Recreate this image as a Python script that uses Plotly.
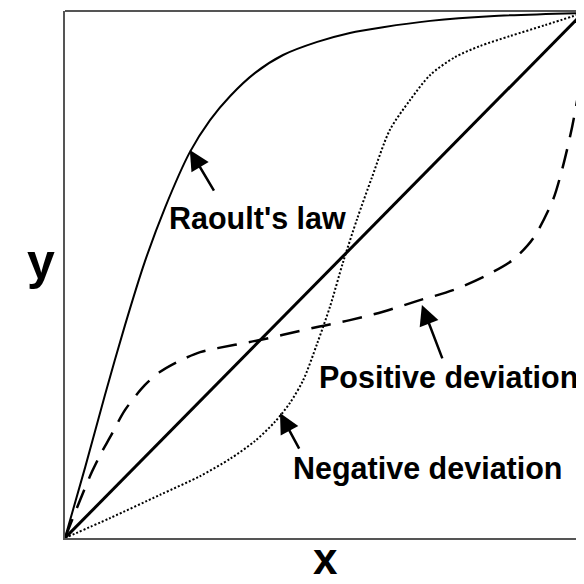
import plotly.graph_objects as go

# Diagonal (ideal line)
diag_x = [0.0, 1.0]
diag_y = [0.0, 1.0]

# Upper concave solid curve
curve_a_x = [0.0, 0.039, 0.077, 0.116, 0.154, 0.193, 0.241, 0.280, 0.319, 0.367, 0.421, 0.487, 0.550, 0.614, 0.705, 0.821, 1.0]
curve_a_y = [0.0, 0.135, 0.272, 0.406, 0.526, 0.629, 0.735, 0.796, 0.842, 0.886, 0.920, 0.945, 0.962, 0.973, 0.985, 0.994, 1.0]

# Dashed S-curve
curve_b_x = [0.0, 0.029, 0.052, 0.071, 0.087, 0.116, 0.154, 0.183, 0.216, 0.261, 0.328, 0.376, 0.421, 0.487, 0.550, 0.614, 0.685, 0.749, 0.815, 0.865, 0.904, 0.942, 0.961, 0.979, 0.994, 0.998, 1.0]
curve_b_y = [0.0, 0.072, 0.126, 0.164, 0.192, 0.244, 0.291, 0.316, 0.335, 0.354, 0.368, 0.377, 0.387, 0.402, 0.415, 0.431, 0.453, 0.472, 0.501, 0.530, 0.571, 0.644, 0.707, 0.783, 0.867, 0.930, 1.0]

# Dotted S-curve
curve_c_x = [0.0, 0.087, 0.183, 0.261, 0.319, 0.367, 0.405, 0.434, 0.460, 0.487, 0.512, 0.537, 0.564, 0.593, 0.627, 0.666, 0.705, 0.753, 0.801, 0.859, 0.927, 1.0]
curve_c_y = [0.0, 0.038, 0.082, 0.118, 0.151, 0.185, 0.221, 0.257, 0.301, 0.371, 0.442, 0.526, 0.608, 0.688, 0.777, 0.834, 0.882, 0.916, 0.937, 0.956, 0.977, 1.0]

labels = ["Raoult's law", "Positive deviation", "Negative deviation"]
label_x = [0.372, 0.741, 0.701]
label_y = [0.610, 0.307, 0.133]
arrow_tip_x = [0.241, 0.689, 0.415]
arrow_tip_y = [0.739, 0.444, 0.238]
arrow_dx = [25, 21, 20]
arrow_dy = [42, 55, 37]

axis_titles = ["x", "y"]

fig = go.Figure()
fig.add_trace(go.Scatter(x=diag_x, y=diag_y, mode="lines",
                         line=dict(color="black", width=3)))
fig.add_trace(go.Scatter(x=curve_a_x, y=curve_a_y, mode="lines",
                         line=dict(color="black", width=2, shape="spline", smoothing=0.8)))
fig.add_trace(go.Scatter(x=curve_b_x, y=curve_b_y, mode="lines",
                         line=dict(color="black", width=2.5, dash="20px,12px", shape="spline", smoothing=0.8)))
fig.add_trace(go.Scatter(x=curve_c_x, y=curve_c_y, mode="lines",
                         line=dict(color="black", width=2, dash="2px,2px", shape="spline", smoothing=0.8)))

font = dict(family="Liberation Sans, Arial, sans-serif", size=30.5, color="black")
for t, tx, ty in zip(labels, label_x, label_y):
    fig.add_annotation(x=tx, y=ty, text="<b>" + t + "</b>", showarrow=False,
                       xanchor="center", yanchor="middle", font=font)
for px, py, dx, dy in zip(arrow_tip_x, arrow_tip_y, arrow_dx, arrow_dy):
    fig.add_annotation(x=px, y=py, text="", showarrow=True, ax=dx, ay=dy,
                       arrowhead=2, arrowsize=1.6, arrowwidth=2.5, arrowcolor="black")

fig.add_annotation(xref="paper", yref="paper", x=(41 - 65) / 519, y=(538 - 262) / 527,
                   text="<b>" + axis_titles[1] + "</b>", showarrow=False,
                   xanchor="center", yanchor="middle",
                   font=dict(family="Liberation Sans, Arial, sans-serif", size=50, color="black"))
fig.add_annotation(xref="paper", yref="paper", x=(325 - 65) / 519, y=(538 - 558.5) / 527,
                   text="<b>" + axis_titles[0] + "</b>", showarrow=False,
                   xanchor="center", yanchor="middle",
                   font=dict(family="Liberation Sans, Arial, sans-serif", size=44, color="black"))

# top border
fig.add_shape(type="line", xref="paper", yref="paper", x0=0, x1=1, y0=1, y1=1,
              line=dict(color="#555555", width=2))

# page body has an 8px margin, so the figure is 576 wide and offset by 8px
fig.update_layout(
    width=576, height=576,
    margin=dict(l=57, r=0, t=3, b=46),
    plot_bgcolor="white", paper_bgcolor="white",
    showlegend=False,
    xaxis=dict(range=[0, 519 / 518], showgrid=False, zeroline=False, showticklabels=False,
               ticks="", showline=True, linecolor="#555555", linewidth=2),
    yaxis=dict(range=[0, 527 / 525], showgrid=False, zeroline=False, showticklabels=False,
               ticks="", showline=True, linecolor="#555555", linewidth=2),
)
fig.write_html("out.html")
